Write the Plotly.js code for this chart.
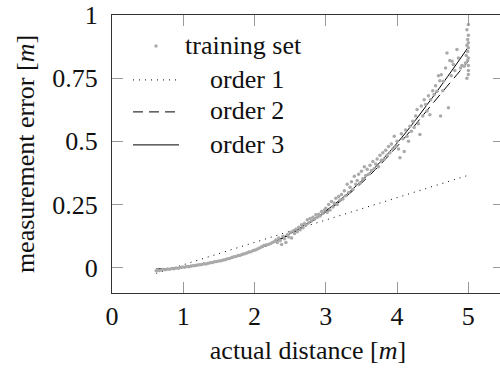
<!DOCTYPE html>
<html>
<head>
<meta charset="utf-8">
<script src="https://cdn.plot.ly/plotly-3.0.1.min.js"></script>
<style>
html,body{margin:0;padding:0;overflow:hidden;background:#fff;}
#chart{width:504px;height:369px;}
</style>
</head>
<body>
<div id="chart"></div>
<script>
// training set
const trainX = [
0.62,0.64,0.66,0.69,0.72,0.75,0.78,0.81,0.84,0.87,0.90,0.93,0.96,0.99,1.02,1.05,1.08,1.11,1.14,1.17,
1.20,1.23,1.26,1.29,1.32,1.35,1.38,1.41,1.44,1.47,1.50,1.53,1.56,1.59,1.62,1.65,1.68,1.71,1.74,1.77,
1.80,1.83,1.86,1.89,1.92,1.95,1.98,2.01,2.04,2.07,2.10,2.13,2.16,2.19,2.22,2.25,2.28,
2.30,2.32,2.34,2.36,2.38,2.40,2.42,2.44,2.46,2.48,2.50,2.52,2.54,2.56,2.58,2.60,2.62,2.64,2.66,2.68,
2.70,2.72,2.74,2.76,2.78,2.80,2.82,2.84,2.86,2.88,2.90,2.92,2.94,2.96,2.98,
3.00,3.02,3.04,3.06,3.08,3.10,3.12,3.14,3.16,3.18,3.20,3.22,3.24,3.26,3.28,3.30,3.32,3.34,3.36,3.38,
3.40,3.42,3.44,3.46,3.48,3.50,3.52,3.54,3.56,3.58,3.60,3.62,3.64,3.66,3.68,3.70,3.72,3.74,3.76,3.78,
3.80,3.82,3.84,3.86,3.88,3.90,3.92,3.94,3.96,3.98,
4.00,4.02,4.04,4.06,4.08,4.10,4.12,4.14,4.16,4.18,4.20,4.22,4.24,4.26,4.28,4.30,4.32,4.34,4.36,4.38,
4.40,4.42,4.44,4.46,4.47,4.50,4.52,4.54,4.56,4.58,4.60,4.61,4.62,4.64,4.65,4.68,4.70,4.72,4.74,4.76,
4.77,4.79,4.81,4.84,4.86,4.89,4.91,4.94,4.96,4.97,4.98,4.98,4.99,4.99,5.00,5.00,5.00,5.00,5.00,5.00,
5.00,5.00,4.99,4.98
];
const trainY = [
-0.012,-0.008,-0.011,-0.009,-0.007,-0.008,-0.005,-0.006,-0.003,-0.004,-0.001,-0.002,0.001,0.003,0.002,0.005,0.004,0.007,0.008,0.009,
0.011,0.012,0.013,0.016,0.015,0.018,0.020,0.021,0.024,0.025,0.027,0.028,0.031,0.032,0.036,0.037,0.040,0.043,0.044,0.048,
0.049,0.053,0.055,0.058,0.062,0.063,0.068,0.070,0.074,0.078,0.083,0.088,0.090,0.092,0.095,0.100,0.104,
0.110,0.100,0.118,0.108,0.092,0.125,0.115,0.100,0.130,0.122,0.140,0.118,0.145,0.135,0.152,0.142,0.160,0.150,0.170,0.158,
0.175,0.168,0.190,0.178,0.195,0.185,0.200,0.192,0.210,0.200,0.212,0.205,0.222,0.215,0.228,
0.235,0.220,0.250,0.228,0.262,0.240,0.255,0.275,0.250,0.282,0.268,0.290,0.272,0.305,0.285,0.330,0.298,0.318,0.340,0.310,
0.362,0.330,0.345,0.370,0.335,0.382,0.352,0.400,0.365,0.390,0.370,0.405,0.385,0.420,0.392,0.410,0.430,0.400,0.445,0.425,
0.455,0.430,0.465,0.445,0.480,0.455,0.490,0.470,0.520,0.480,
0.500,0.470,0.435,0.530,0.510,0.460,0.545,0.520,0.500,0.560,0.540,0.580,0.555,0.600,0.626,0.570,0.527,0.640,0.600,0.665,
0.646,0.620,0.680,0.605,0.665,0.700,0.685,0.720,0.698,0.760,0.740,0.600,0.764,0.700,0.738,0.790,0.850,0.633,0.820,0.760,
0.817,0.804,0.780,0.863,0.830,0.790,0.800,0.797,0.810,0.840,0.880,0.942,0.903,0.856,0.962,0.920,0.890,0.870,0.830,0.800,
0.780,0.765,0.820,0.750
];
// fitted polynomials
const fitX = [0.62, 1.0, 1.5, 2.0, 2.5, 3.0, 3.5, 4.0, 4.5, 5.0];
const order1X = [0.62, 5.0];
const order1Y = [-0.022, 0.366];
const order2Y = [-0.004, 0.0, 0.026, 0.068, 0.132, 0.220, 0.335, 0.480, 0.650, 0.818];
const order3Y = [-0.012, 0.004, 0.025, 0.068, 0.135, 0.225, 0.343, 0.493, 0.675, 0.873];
const seriesNames = ['training set', 'order 1', 'order 2', 'order 3'];
const xTicks = [0, 1, 2, 3, 4, 5];
const yTicks = [0, 0.25, 0.5, 0.75, 1];
const yTickText = ['0', '0.25', '0.5', '0.75', '1'];

const FONT = "'Liberation Serif', serif";
const FS = 26;
const BLANK = '\u00a0';

const traces = [
  {x: order1X, y: order1Y, mode: 'lines', name: BLANK, legend: 'legend2',
   line: {color: '#000', width: 1, dash: '1px,5px'}},
  {x: fitX, y: order2Y, mode: 'lines', name: BLANK, legend: 'legend3',
   line: {color: '#000', width: 1, dash: '10px,6px', shape: 'spline'}},
  {x: fitX, y: order3Y, mode: 'lines', name: BLANK, legend: 'legend4',
   line: {color: '#000', width: 1, shape: 'spline'}},
  {x: trainX, y: trainY, mode: 'markers', name: BLANK, legend: 'legend',
   marker: {color: '#aaaaaa', size: 3.5}}
];

function leg(yc) {
  return {x: (128 - 112) / 392, xanchor: 'left', y: yc, yanchor: 'middle',
          bgcolor: 'rgba(0,0,0,0)', borderwidth: 0, itemwidth: 46,
          font: {family: FONT, size: FS, color: '#111'}};
}
const H = 278;
// legend labels (centred column like the reference)
const labelLeft = [185, 210, 210, 210];
const labelMid = [45, 79, 111, 144];
const annotations = seriesNames.map(function (s, i) {
  return {text: s, xref: 'paper', yref: 'paper',
          x: (labelLeft[i] - 2 - 112) / 392, y: (293 - labelMid[i]) / H,
          xanchor: 'left', yanchor: 'middle', showarrow: false,
          font: {family: FONT, size: FS, color: '#111'}};
});
const layout = {
  width: 504, height: 369,
  margin: {l: 112, r: 0, t: 15, b: 76},
  paper_bgcolor: '#fff', plot_bgcolor: '#fff',
  font: {family: FONT, size: FS, color: '#111'},
  showlegend: true,
  legend: leg((293 - 46) / H),
  legend2: leg((293 - 80) / H),
  legend3: leg((293 - 112) / H),
  legend4: leg((293 - 145) / H),
  annotations: annotations,
  xaxis: {
    range: [0, 5.5], tickvals: xTicks, ticktext: xTicks.map(String),
    ticks: 'inside', ticklen: 11, tickcolor: '#999', tickwidth: 1,
    showline: true, linecolor: '#333', linewidth: 1, mirror: 'allticks',
    showgrid: false, zeroline: false,
    tickfont: {family: FONT, size: FS, color: '#111'},
    title: {text: 'actual distance [<i>m</i>]', font: {family: FONT, size: FS, color: '#111'}, standoff: 10}
  },
  yaxis: {
    range: [-0.1, 1], tickvals: yTicks, ticktext: yTickText,
    ticks: 'inside', ticklen: 11, tickcolor: '#999', tickwidth: 1,
    showline: true, linecolor: '#333', linewidth: 1, mirror: 'allticks',
    showgrid: false, zeroline: false, ticklabelstandoff: 8,
    tickfont: {family: FONT, size: FS, color: '#111'},
    title: {text: 'measurement error [<i>m</i>]', font: {family: FONT, size: FS, color: '#111'}, standoff: 10}
  }
};
Plotly.newPlot('chart', traces, layout, {displayModeBar: false, staticPlot: true});
</script>
</body>
</html>
